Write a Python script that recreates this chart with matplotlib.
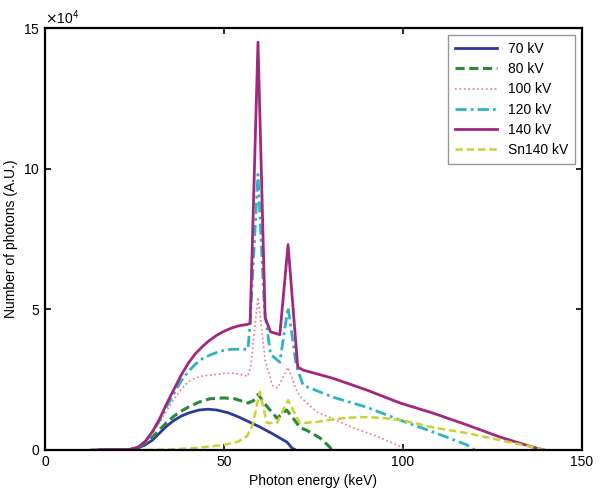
import numpy as np
import matplotlib
matplotlib.use('Agg')
import matplotlib.pyplot as plt
from matplotlib.ticker import ScalarFormatter

plt.rcParams['font.family'] = ['Liberation Sans', 'DejaVu Sans']

# spectra, counts in units of 1e4
e70 = [15, 24, 26, 28, 30, 32, 34, 36, 38, 40, 43, 45.5, 48, 51, 54, 57, 60, 63.5, 67.6, 69, 70]
n70 = [0, 0.02, 0.07, 0.18, 0.35, 0.6, 0.85, 1.05, 1.2, 1.31, 1.42, 1.45, 1.42, 1.33, 1.18, 1.0, 0.82, 0.58, 0.28, 0.07, 0]

e80 = [15, 24, 26, 28, 30, 32, 34, 36, 38, 40, 43, 46, 50, 53, 56.7, 58.2, 59.6, 61.0, 64.8, 67.5,
       69.5, 71.2, 73.1, 76.8, 79.6, 80]
n80 = [0, 0.02, 0.08, 0.24, 0.45, 0.72, 0.98, 1.2, 1.38, 1.52, 1.7, 1.82, 1.85, 1.82, 1.67, 1.75, 1.98, 1.7, 1.13, 1.42,
       1.1, 0.8, 0.7, 0.43, 0.1, 0]

e100 = [15, 24, 26, 28, 30, 32, 34, 36, 38, 40, 42, 44, 46, 50, 53, 56.7, 57.5, 59.5, 61.5, 63.5, 65.0,
        67.9, 70.0, 71.2, 76, 85, 94, 99.7, 100]
n100 = [0, 0.02, 0.1, 0.28, 0.58, 0.98, 1.4, 1.8, 2.15, 2.42, 2.56, 2.63, 2.66, 2.72, 2.73, 2.62, 3.0, 5.43, 3.2, 2.3, 2.2,
        2.94, 2.2, 1.9, 1.35, 0.85, 0.42, 0.1, 0]

e120 = [15, 24, 26, 28, 30, 32, 34, 36, 38, 40, 42, 44, 46, 48, 50, 52, 56.7, 57.3, 59.5, 61.3, 63.0, 65.6,
        67.9, 70.2, 72.1, 80.4, 89.9, 99.2, 108.4, 117.9, 120]
n120 = [0, 0.02, 0.1, 0.3, 0.62, 1.05, 1.55, 2.0, 2.45, 2.78, 3.05, 3.25, 3.37, 3.47, 3.54, 3.58, 3.58, 4.5, 9.8, 5.0, 3.4, 3.12,
        5.07, 3.0, 2.3, 1.88, 1.52, 1.06, 0.64, 0.18, 0]

e140 = [13, 23.7, 26, 28, 30, 32, 34, 36, 38, 40, 42, 44, 46, 48, 50, 52, 54, 56.7, 57.3, 59.5, 61.5, 63.0, 65.6,
        67.9, 70.6, 72.1, 80.4, 89.9, 99.2, 108.4, 117.9, 127.1, 136.3, 139.5]
n140 = [0, 0.02, 0.1, 0.3, 0.65, 1.1, 1.65, 2.15, 2.65, 3.08, 3.42, 3.68, 3.9, 4.08, 4.22, 4.33, 4.41, 4.47, 4.5, 14.5, 4.7, 4.2, 4.1,
        7.3, 2.95, 2.84, 2.55, 2.13, 1.67, 1.31, 0.89, 0.46, 0.1, 0]

eSn = [28, 35, 42, 50, 54, 56.5, 58, 60, 62, 64.8, 67.9, 71.2, 76, 80, 85, 90, 95, 100, 108.4, 117.9, 127.1, 136.3, 139.5]
nSn = [0, 0.02, 0.07, 0.18, 0.3, 0.5, 0.9, 2.06, 0.96, 0.96, 1.77, 0.95, 1.0, 1.08, 1.15, 1.17, 1.13, 1.05, 0.8, 0.6, 0.35, 0.1, 0]

labels = ['70 kV', '80 kV', '100 kV', '120 kV', '140 kV', 'Sn140 kV']

fig = plt.figure(figsize=(6.03, 4.97), dpi=100)
ax = fig.add_axes([0.0746, 0.0946, 0.8905, 0.849])

ax.plot(e70, np.array(n70) * 1e4, '-', color='#2b3a9c', lw=2.0, label=labels[0])
ax.plot(e80, np.array(n80) * 1e4, '--', color='#2a8a35', lw=2.2, label=labels[1], dashes=(3, 1.5))
ax.plot(e100, np.array(n100) * 1e4, ':', color='#e57b80', lw=1.2, label=labels[2])
ax.plot(e120, np.array(n120) * 1e4, '-.', color='#2db3c2', lw=2.0, label=labels[3], dashes=(4, 1.5, 1, 1.5))
ax.plot(e140, np.array(n140) * 1e4, '-', color='#a2287f', lw=2.0, label=labels[4])
ax.plot(eSn, np.array(nSn) * 1e4, '--', color='#c9d331', lw=1.8, label=labels[5], dashes=(3, 1.5))

ax.set_xlim(0, 150)
ax.set_ylim(0, 15e4)
ax.set_xticks([0, 50, 100, 150])
ax.set_yticks([0, 5e4, 10e4, 15e4])
fmt = ScalarFormatter(useMathText=True)
fmt.set_powerlimits((4, 4))
ax.yaxis.set_major_formatter(fmt)
ax.yaxis.get_offset_text().set_fontsize(10)

ax.tick_params(direction='in', top=True, right=True, labelsize=10, width=1.2, length=4)
for s in ax.spines.values():
    s.set_linewidth(1.6)

ax.set_xlabel('Photon energy (keV)', fontsize=10)
ax.set_ylabel('Number of photons (A.U.)', fontsize=10)
ax.legend(loc='upper right', fontsize=10, handlelength=3, borderpad=0.5,
          labelspacing=0.45, fancybox=False, edgecolor='#999999', framealpha=1)

fig.savefig('out.png', dpi=100)
